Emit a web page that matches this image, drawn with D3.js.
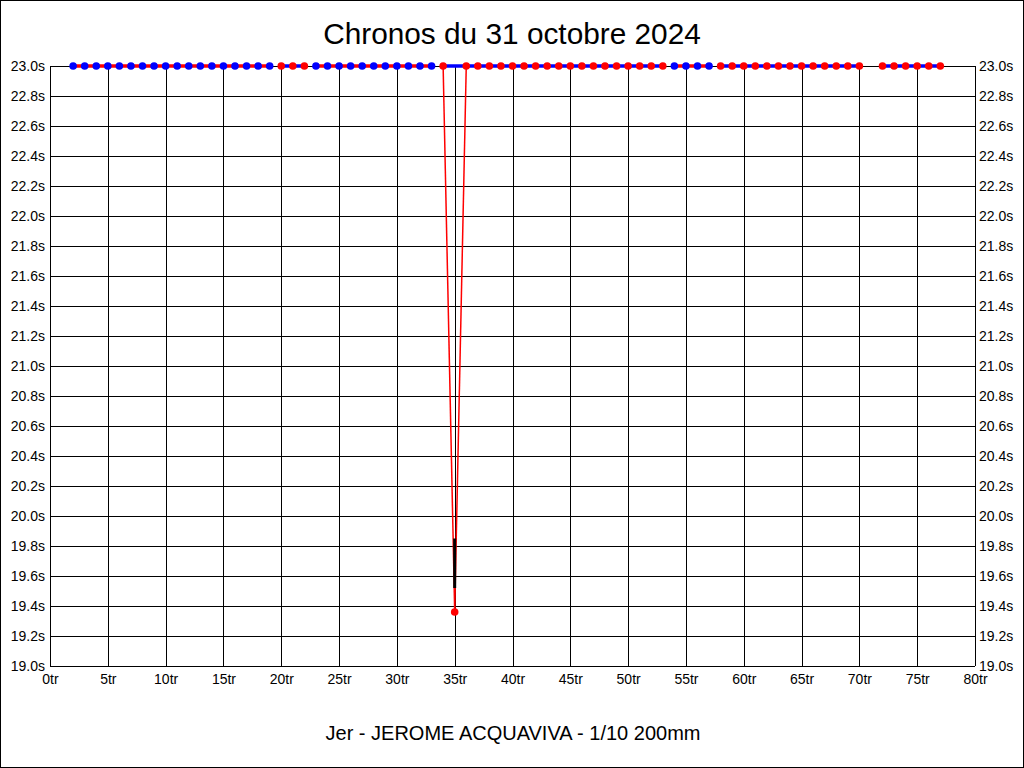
<!DOCTYPE html>
<html>
<head>
<meta charset="utf-8">
<script src="https://cdn.jsdelivr.net/npm/d3@7"></script>
<style>
  html, body { margin: 0; padding: 0; background: #fff; }
  svg { display: block; }
  text { font-family: "Liberation Sans", Arial, sans-serif; fill: #000; }
</style>
</head>
<body>
<svg id="chart" width="1024" height="768"></svg>
<script>
// ---- Data ----
const title = "Chronos du 31 octobre 2024";
const subtitle = "Jer - JEROME ACQUAVIVA - 1/10 200mm";

// lap numbers that have a recorded time (lap 1 and lap 71 absent)
const laps = [2,3,4,5,6,7,8,9,10,11,12,13,14,15,16,17,18,19,
              20,21,22,
              23,24,25,26,27,28,29,30,31,32,33,
              34,35,36,37,38,39,40,41,42,43,44,45,46,47,48,49,50,51,52,53,
              54,55,56,57,
              58,59,60,61,62,63,64,65,66,67,68,69,70,
              72,73,74,75,76,77];
// lap times in seconds (values off the top of the chart are shown clamped at 23.0s)
const times = [23.0,23.0,23.0,23.0,23.0,23.0,23.0,23.0,23.0,23.0,23.0,23.0,23.0,23.0,23.0,23.0,23.0,23.0,
               23.0,23.0,23.0,
               23.0,23.0,23.0,23.0,23.0,23.0,23.0,23.0,23.0,23.0,23.0,
               23.0,19.36,23.0,23.0,23.0,23.0,23.0,23.0,23.0,23.0,23.0,23.0,23.0,23.0,23.0,23.0,23.0,23.0,23.0,23.0,
               23.0,23.0,23.0,23.0,
               23.0,23.0,23.0,23.0,23.0,23.0,23.0,23.0,23.0,23.0,23.0,23.0,23.0,
               23.0,23.0,23.0,23.0,23.0,23.0];
// point category: A = blue marker / red line, B = red marker / blue line, S = best lap
const kinds = ["A","A","A","A","A","A","A","A","A","A","A","A","A","A","A","A","A","A",
               "B","B","B",
               "A","A","A","A","A","A","A","A","A","A","A",
               "B","S","B","B","B","B","B","B","B","B","B","B","B","B","B","B","B","B","B","B",
               "A","A","A","A",
               "B","B","B","B","B","B","B","B","B","B","B","B","B",
               "B","B","B","B","B","B"];
// black range bar at the best lap
const bestRangeLap = 35;
const bestRange = [19.52, 19.85];

const xTicks = [0,5,10,15,20,25,30,35,40,45,50,55,60,65,70,75,80];
const yTicks = [19.0,19.2,19.4,19.6,19.8,20.0,20.2,20.4,20.6,20.8,21.0,21.2,21.4,21.6,21.8,22.0,22.2,22.4,22.6,22.8,23.0];

// ---- Chart ----
const W = 1024, H = 768;
const L = 50, R = 975, T = 66, B = 666;
const svg = d3.select("#chart");

const x = d3.scaleLinear().domain([0, 80]).range([L, R]);
const y = d3.scaleLinear().domain([19, 23]).range([B, T]).clamp(true);

const markerColor = { A: "#0000ff", B: "#ff0000", S: "#ff0000" };
const lineColor = { A: "#ff0000", B: "#0000ff" };

// outer frame
svg.append("rect").attr("x", 0.5).attr("y", 0.5).attr("width", W - 1).attr("height", H - 1)
  .attr("fill", "#fff").attr("stroke", "#000").attr("stroke-width", 1);

// title / subtitle
svg.append("text").attr("x", 512).attr("y", 44).attr("text-anchor", "middle")
  .style("font-size", "29.8px").text(title);
svg.append("text").attr("x", 513).attr("y", 740).attr("text-anchor", "middle")
  .style("font-size", "20px").text(subtitle);

// grid
const grid = svg.append("g").attr("shape-rendering", "crispEdges").attr("stroke", "#000").attr("stroke-width", 1);
grid.selectAll(".gx").data(xTicks).join("line")
  .attr("x1", d => Math.round(x(d)) + 0.5).attr("x2", d => Math.round(x(d)) + 0.5)
  .attr("y1", T).attr("y2", B);
grid.selectAll(".gy").data(yTicks).join("line")
  .attr("y1", d => Math.round(y(d)) + 0.5).attr("y2", d => Math.round(y(d)) + 0.5)
  .attr("x1", L).attr("x2", R);

// axes labels via d3 axes (no domain/tick lines)
const fmtY = d => d3.format(".1f")(d) + "s";
const axL = svg.append("g").attr("transform", `translate(${L},0)`)
  .call(d3.axisLeft(y).tickValues(yTicks).tickFormat(fmtY).tickSize(0).tickPadding(5));
const axR = svg.append("g").attr("transform", `translate(${R},0)`)
  .call(d3.axisRight(y).tickValues(yTicks).tickFormat(fmtY).tickSize(0).tickPadding(4));
const axB = svg.append("g").attr("transform", `translate(0,${B})`)
  .call(d3.axisBottom(x).tickValues(xTicks).tickFormat(d => d + "tr").tickSize(0).tickPadding(8));
[axL, axR, axB].forEach(a => {
  a.select(".domain").remove();
  a.selectAll("text").style("font-size", "14px").style("font-family", '"Liberation Sans", Arial, sans-serif').attr("fill", "#000");
});

// build point list
const pts = laps.map((lap, i) => ({ lap, t: times[i], kind: kinds[i] }));
const lapSet = new Set(laps);

// stint lines (A/B) : connect consecutive non-S points of same kind with no missing lap between
const regular = pts.filter(p => p.kind !== "S");
const segs = [];
for (let i = 0; i < regular.length - 1; i++) {
  const a = regular[i], b = regular[i + 1];
  if (a.kind !== b.kind) continue;
  let ok = true;
  for (let l = a.lap + 1; l < b.lap; l++) if (!lapSet.has(l)) ok = false;
  if (ok) segs.push({ a, b, color: lineColor[a.kind], w: 3.5 });
}
// best-lap lines (thin red) to neighbours
pts.forEach((p, i) => {
  if (p.kind !== "S") return;
  if (i > 0) segs.push({ a: pts[i - 1], b: p, color: "#ff0000", w: 1.5 });
  if (i < pts.length - 1) segs.push({ a: p, b: pts[i + 1], color: "#ff0000", w: 1.5 });
});

svg.append("g").selectAll("line").data(segs).join("line")
  .attr("x1", d => x(d.a.lap)).attr("y1", d => y(d.a.t))
  .attr("x2", d => x(d.b.lap)).attr("y2", d => y(d.b.t))
  .attr("stroke", d => d.color).attr("stroke-width", d => d.w);

// black range bar
svg.append("line")
  .attr("x1", x(bestRangeLap)).attr("x2", x(bestRangeLap))
  .attr("y1", y(bestRange[1])).attr("y2", y(bestRange[0]))
  .attr("stroke", "#000").attr("stroke-width", 3);

// markers
svg.append("g").selectAll("circle").data(pts).join("circle")
  .attr("cx", d => x(d.lap)).attr("cy", d => y(d.t)).attr("r", 3.8)
  .attr("fill", d => markerColor[d.kind]);
</script>
</body>
</html>
